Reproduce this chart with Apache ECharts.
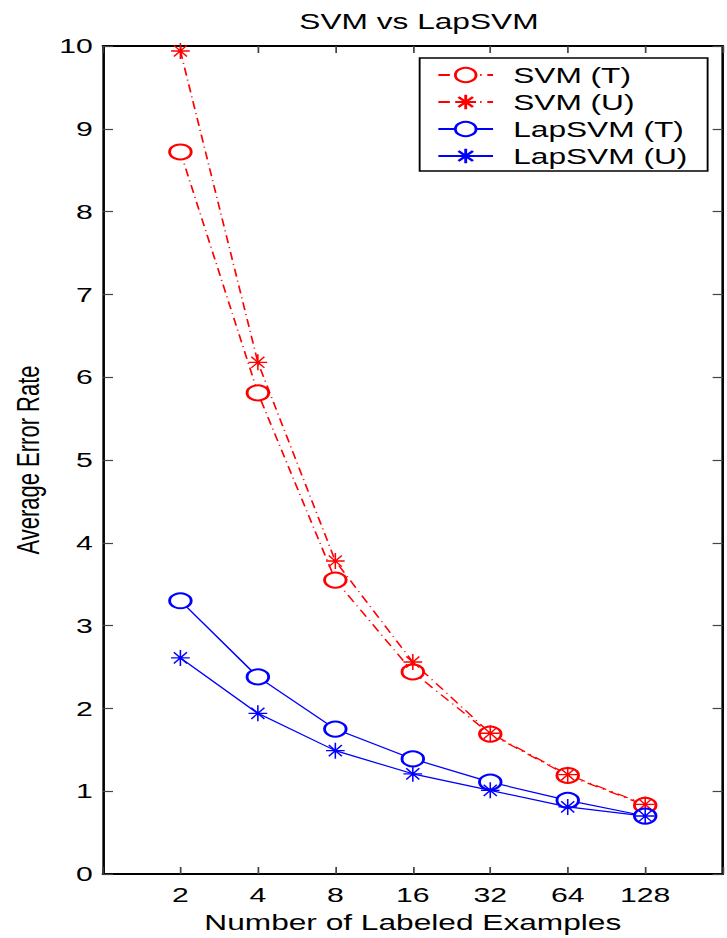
<!DOCTYPE html>
<html>
<head>
<meta charset="utf-8">
<script src="https://cdn.jsdelivr.net/npm/echarts@6/dist/echarts.min.js"></script>
<style>
  html, body { margin: 0; padding: 0; background: #fff; overflow: hidden; }
  /* the original figure is stretched sideways, so the chart is laid out
     narrower and scaled back up to 727px wide */
  #chart { width: 505px; height: 938px; transform: scaleX(1.4396); transform-origin: 0 0; }
</style>
</head>
<body>
<div id="chart"></div>
<script>
const labeledExamples = [2, 4, 8, 16, 32, 64, 128];
const svmT = [8.72, 5.81, 3.55, 2.44, 1.69, 1.19, 0.83];
const svmU = [9.94, 6.18, 3.78, 2.56, 1.70, 1.20, 0.84];
const lapsvmT = [3.30, 2.38, 1.75, 1.39, 1.11, 0.89, 0.70];
const lapsvmU = [2.61, 1.94, 1.49, 1.21, 1.01, 0.81, 0.70];

const fontFamily = '"Liberation Sans", Arial, sans-serif';
const asterisk = 'path://M0,-10L0,10M-10,0L10,0M-7,-7L7,7M-7,7L7,-7';

// x positions are log2 of the number of examples
function toPoints(values) {
  return labeledExamples.map((n, i) => [Math.log2(n), values[i]]);
}

function makeSeries(name, values, color, dashed, symbol) {
  return {
    type: 'line',
    name: name,
    data: toPoints(values),
    symbol: symbol === 'circle' ? 'emptyCircle' : asterisk,
    symbolSize: symbol === 'circle' ? [15, 15] : [13, 16],
    showSymbol: true,
    clip: false,
    lineStyle: {
      color: color,
      width: 1.2,
      type: dashed ? [8, 4, 1, 4] : 'solid'
    },
    itemStyle: {
      color: color,
      borderColor: color,
      borderWidth: 1.2
    },
    emphasis: { disabled: true }
  };
}

const chart = echarts.init(document.getElementById('chart'), null, { renderer: 'svg' });

const axisCommon = {
  type: 'value',
  axisLine: { show: true, onZero: false, lineStyle: { color: '#000', width: 1.8 } },
  axisTick: { show: true, inside: true, length: 7, lineStyle: { color: '#444', width: 1.2 } },
  splitLine: { show: false }
};

chart.setOption({
  animation: false,
  backgroundColor: '#fff',
  title: {
    text: 'SVM vs LapSVM',
    left: 286,
    textAlign: 'center',
    top: 5,
    textStyle: { fontFamily: fontFamily, fontSize: 22, fontWeight: 'normal', color: '#000' }
  },
  grid: { left: 71.5, top: 46, width: 435, height: 828 },
  legend: {
    orient: 'vertical',
    left: 291.5,
    top: 58,
    padding: [6, 14, 4, 12],
    itemWidth: 38,
    itemHeight: 18,
    itemGap: 5,
    borderColor: '#000',
    borderWidth: 1.3,
    backgroundColor: '#fff',
    textStyle: { fontFamily: fontFamily, fontSize: 22, color: '#000', lineHeight: 22, padding: [0, 0, 0, 9] },
    data: ['SVM (T)', 'SVM (U)', 'LapSVM (T)', 'LapSVM (U)']
  },
  xAxis: [
    Object.assign({}, axisCommon, {
      position: 'bottom',
      min: 0,
      max: 8,
      interval: 1,
      name: 'Number of Labeled Examples',
      nameLocation: 'middle',
      nameGap: 37,
      nameTextStyle: { fontFamily: fontFamily, fontSize: 22, color: '#000' },
      axisLabel: {
        fontFamily: fontFamily,
        fontSize: 21,
        color: '#000',
        margin: 10,
        formatter: v => (v >= 1 && v <= 7 ? String(Math.pow(2, v)) : '')
      }
    }),
    Object.assign({}, axisCommon, {
      position: 'top',
      min: 0,
      max: 8,
      interval: 1,
      axisLabel: { show: false }
    })
  ],
  yAxis: [
    Object.assign({}, axisCommon, {
      position: 'left',
      min: 0,
      max: 10,
      interval: 1,
      name: 'Average Error Rate',
      nameLocation: 'middle',
      nameGap: 41,
      nameTextStyle: { fontFamily: fontFamily, fontSize: 22, color: '#000' },
      axisLabel: { fontFamily: fontFamily, fontSize: 21, color: '#000', margin: 7 }
    }),
    Object.assign({}, axisCommon, {
      position: 'right',
      min: 0,
      max: 10,
      interval: 1,
      axisLabel: { show: false }
    })
  ],
  series: [
    makeSeries('SVM (T)', svmT, '#ff0000', true, 'circle'),
    makeSeries('SVM (U)', svmU, '#ff0000', true, 'star'),
    makeSeries('LapSVM (T)', lapsvmT, '#0000ff', false, 'circle'),
    makeSeries('LapSVM (U)', lapsvmU, '#0000ff', false, 'star')
  ]
});

window.addEventListener('resize', function () {
  chart.resize();
});
</script>
</body>
</html>
